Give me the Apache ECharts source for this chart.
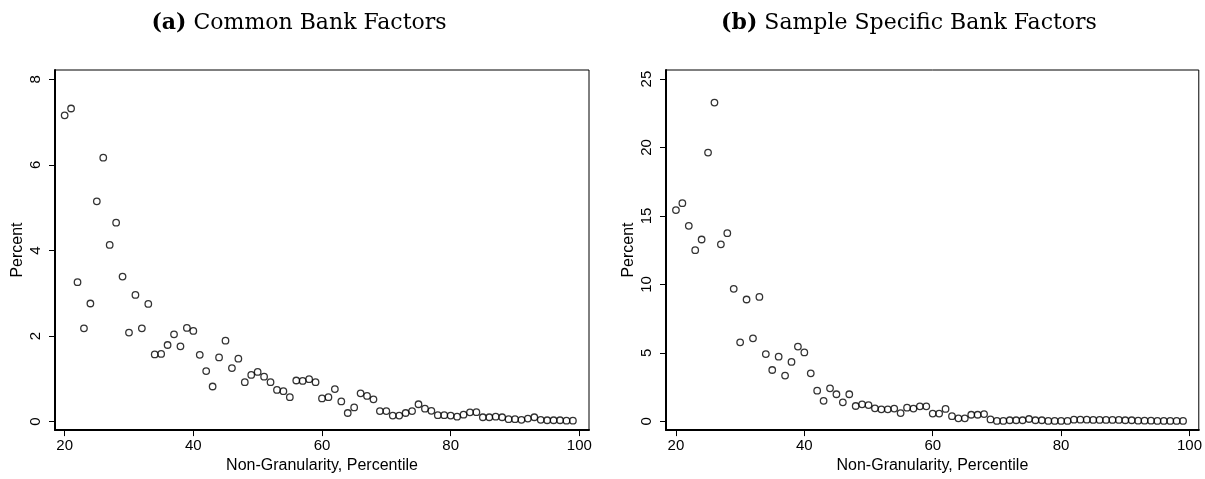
<!DOCTYPE html>
<html>
<head>
<meta charset="utf-8">
<script src="https://cdn.jsdelivr.net/npm/echarts@6/dist/echarts.min.js"></script>
<style>html,body{margin:0;padding:0;background:#fff}#c{width:1205px;height:479px}</style>
</head>
<body>
<div id="c"></div>
<script>
// Percentile categories (x values)
const percentiles = [];
for (let p = 20; p <= 99; p++) percentiles.push(p);

// (a) Common Bank Factors: percent by percentile 20..99
const commonValues = [
  7.16, 7.32, 3.26, 2.18, 2.76, 5.15, 6.17, 4.13, 4.65, 3.39,
  2.08, 2.96, 2.18, 2.75, 1.57, 1.58, 1.79, 2.04, 1.76, 2.19,
  2.12, 1.56, 1.18, 0.82, 1.50, 1.89, 1.25, 1.47, 0.92, 1.09,
  1.16, 1.05, 0.92, 0.74, 0.71, 0.57, 0.96, 0.95, 0.99, 0.92,
  0.54, 0.57, 0.76, 0.47, 0.20, 0.33, 0.66, 0.60, 0.52, 0.245,
  0.245, 0.14, 0.14, 0.20, 0.245, 0.405, 0.30, 0.25, 0.15, 0.15,
  0.14, 0.115, 0.16, 0.215, 0.22, 0.10, 0.10, 0.115, 0.10, 0.055,
  0.055, 0.04, 0.07, 0.10, 0.04, 0.03, 0.03, 0.03, 0.02, 0.02
];

// (b) Sample Specific Bank Factors: percent by percentile 20..99
const specificValues = [
  15.43, 15.93, 14.28, 12.50, 13.28, 19.63, 23.28, 12.93, 13.74, 9.68,
  5.77, 8.90, 6.06, 9.09, 4.91, 3.75, 4.72, 3.34, 4.34, 5.46,
  5.03, 3.51, 2.24, 1.50, 2.41, 1.98, 1.39, 1.98, 1.12, 1.24,
  1.19, 0.95, 0.88, 0.88, 0.93, 0.60, 1.00, 0.93, 1.10, 1.10,
  0.57, 0.57, 0.91, 0.38, 0.22, 0.22, 0.48, 0.48, 0.53, 0.14,
  0.03, 0.03, 0.08, 0.08, 0.08, 0.17, 0.08, 0.08, 0.03, 0.03,
  0.03, 0.03, 0.12, 0.12, 0.12, 0.10, 0.10, 0.10, 0.10, 0.10,
  0.08, 0.08, 0.05, 0.05, 0.05, 0.03, 0.03, 0.03, 0.03, 0.03
];

// Tick labels
const xTicks = [20, 40, 60, 80, 100];
const yTicksA = [0, 2, 4, 6, 8];
const yTicksB = [0, 5, 10, 15, 20, 25];

const titleA = 'Common Bank Factors';
const titleB = 'Sample Specific Bank Factors';
const xName = 'Non-Granularity, Percentile';
const yName = 'Percent';

const sans = 'Liberation Sans';
const pairs = vals => percentiles.map((p, i) => [p, vals[i]]);

function xAxisCfg(gi, min, max) {
  return {
    type: 'value', gridIndex: gi, min: min, max: max,
    name: xName, nameLocation: 'middle', nameGap: 27,
    nameTextStyle: {fontFamily: sans, fontSize: 16, color: '#000'},
    axisLine: {show: true, onZero: false, lineStyle: {color: '#000', width: 2}},
    axisTick: {show: true, length: 6, customValues: xTicks, lineStyle: {color: '#000', width: 1}},
    axisLabel: {customValues: xTicks, fontFamily: sans, fontSize: 15, color: '#000', margin: 8},
    splitLine: {show: false}
  };
}
function yAxisCfg(gi, min, max, ticks) {
  return {
    type: 'value', gridIndex: gi, min: min, max: max,
    name: yName, nameLocation: 'middle', nameGap: 29, nameRotate: 90,
    nameTextStyle: {fontFamily: sans, fontSize: 16, color: '#000'},
    axisLine: {show: true, onZero: false, lineStyle: {color: '#000', width: 2}},
    axisTick: {show: true, length: 6, customValues: ticks, lineStyle: {color: '#000', width: 1}},
    axisLabel: {customValues: ticks, rotate: 90, fontFamily: sans, fontSize: 15, color: '#000', margin: 12},
    splitLine: {show: false}
  };
}
function seriesCfg(gi, vals) {
  return {
    type: 'scatter', xAxisIndex: gi, yAxisIndex: gi,
    data: pairs(vals), symbol: 'circle', symbolSize: 6.5,
    itemStyle: {color: 'rgba(255,255,255,0)', borderColor: '#000', borderWidth: 1.3},
    emphasis: {disabled: true}
  };
}
const titleStyle = {
  fontFamily: 'DejaVu Serif', fontSize: 22, fontWeight: 'normal', color: '#000',
  rich: {b: {fontFamily: 'DejaVu Serif', fontSize: 22, fontWeight: 'bold', color: '#000'}}
};

const chart = echarts.init(document.getElementById('c'), null, {renderer: 'canvas'});
chart.setOption({
  animation: false,
  backgroundColor: '#fff',
  title: [
    {text: '{b|(a)} ' + titleA, left: 299, top: 12, padding: 0, textAlign: 'center', textStyle: titleStyle},
    {text: '{b|(b)} ' + titleB, left: 909, top: 12, padding: 0, textAlign: 'center', textStyle: titleStyle}
  ],
  grid: [
    {left: 55, top: 70, width: 534, height: 368, show: true, borderColor: '#000', borderWidth: 1, containLabel: false},
    {left: 666, top: 70, width: 534, height: 368, show: true, borderColor: '#000', borderWidth: 1, containLabel: false}
  ],
  xAxis: [xAxisCfg(0, 18.5, 101.5), xAxisCfg(1, 18.45, 101.45)],
  yAxis: [yAxisCfg(0, -0.2, 8.22, yTicksA), yAxisCfg(1, -0.64, 25.66, yTicksB)],
  series: [seriesCfg(0, commonValues), seriesCfg(1, specificValues)]
});
</script>
</body>
</html>
